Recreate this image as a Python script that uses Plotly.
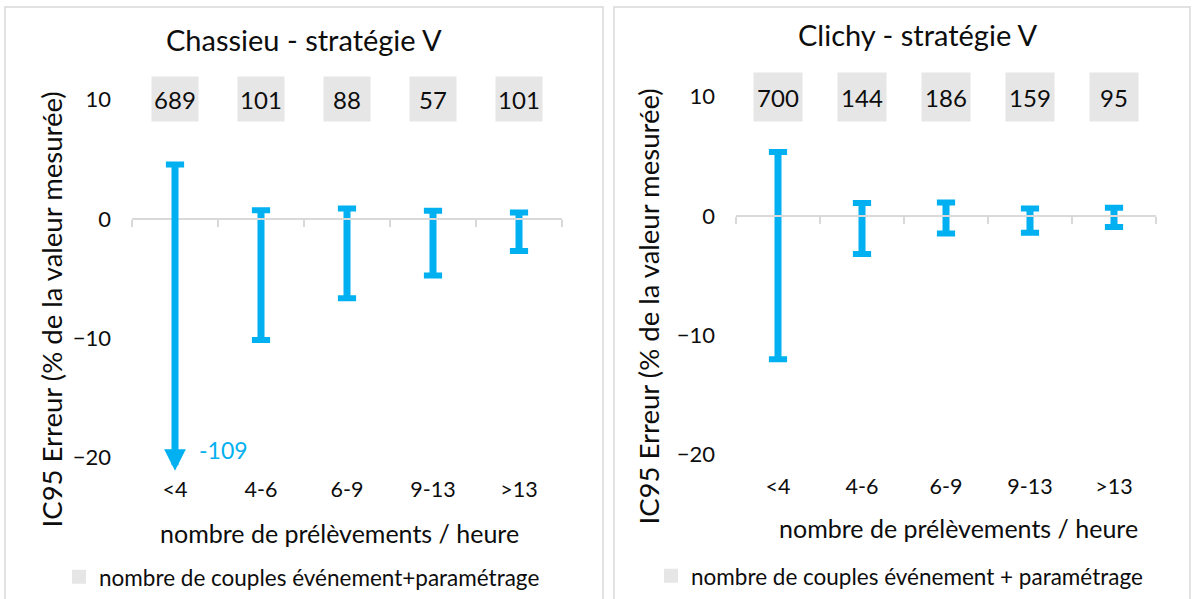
import plotly.graph_objects as go

W, H = 1192, 599

# ---------------- data ----------------
categories = ['<4', '4-6', '6-9', '9-13', '>13']
chassieu_high = [4.55, 0.73, 0.88, 0.69, 0.53]
chassieu_low = [-109, -10.15, -6.64, -4.75, -2.69]
chassieu_counts = [689, 101, 88, 57, 101]
clichy_high = [5.36, 1.08, 1.13, 0.63, 0.68]
clichy_low = [-12.0, -3.2, -1.48, -1.42, -0.93]
clichy_counts = [700, 144, 186, 159, 95]
y_ticks = [-20, -10, 0, 10]
count_row = 10
titles = ['Chassieu - stratégie V', 'Clichy - stratégie V']
x_title = 'nombre de prélèvements / heure'
y_title = 'IC95 Erreur (% de la valeur mesurée)'
legend_names = ['nombre de couples événement+paramétrage',
                'nombre de couples événement + paramétrage']

# ---------------- style ----------------
BLUE = '#00b0f0'
GREY = '#e7e6e6'
AXIS = '#d9d9d9'
TXT = '#0d0d0d'
FONT = 'Lato'
YR = [-21.1, 12]
UNIT = 12.0  # px per unit


def px(x):
    return x / W


def py(y):
    return 1 - y / H


panels = [
    dict(high=chassieu_high, low=chassieu_low, counts=chassieu_counts,
         xpx=(132, 562), zero=220, title=titles[0], title_xy=(304, 40),
         xt_xy=(339, 536), yt_xy=(51, 311), frame=(5, 603), legend_xy=(59, 580),
         legend_name=legend_names[0], box=(44, 42)),
    dict(high=clichy_high, low=clichy_low, counts=clichy_counts,
         xpx=(736, 1156), zero=217, title=titles[1], title_xy=(918, 35),
         xt_xy=(958, 531), yt_xy=(648, 308), frame=(614, 1190), legend_xy=(651, 579),
         legend_name=legend_names[1], box=(46, 46)),
]

fig = go.Figure()
annotations = []
shapes = []
layout = {}

for i, p in enumerate(panels):
    n = i + 1
    xa = 'x' if n == 1 else f'x{n}'
    ya = 'y' if n == 1 else f'y{n}'
    xo = f'x{n + 2}'
    top_px = p['zero'] - YR[1] * UNIT
    bot_px = p['zero'] - YR[0] * UNIT
    ydom = [py(bot_px), py(top_px)]
    zero_pos = ydom[0] + (0 - YR[0]) / (YR[1] - YR[0]) * (ydom[1] - ydom[0])

    # error-bar shafts (in-range ones)
    xs, ys = [], []
    for c, hi, lo in zip(categories, p['high'], p['low']):
        if lo >= YR[0]:
            xs += [c, c, None]
            ys += [hi, lo, None]
    fig.add_trace(go.Scatter(x=xs, y=ys, mode='lines', xaxis=xa, yaxis=ya,
                             line=dict(color=BLUE, width=7), showlegend=False,
                             hoverinfo='skip'))
    # caps
    cx, cy = [], []
    for c, hi, lo in zip(categories, p['high'], p['low']):
        cx.append(c); cy.append(hi)
        if lo >= YR[0]:
            cx.append(c); cy.append(lo)
    fig.add_trace(go.Scatter(x=cx, y=cy, mode='markers', xaxis=xa, yaxis=ya,
                             marker=dict(symbol='line-ew', size=13,
                                         line=dict(color=BLUE, width=6)),
                             showlegend=False, hoverinfo='skip'))
    # off-scale values: arrow down to the axis bottom + value label
    for c, hi, lo in zip(categories, p['high'], p['low']):
        if lo < YR[0]:
            annotations.append(dict(x=c, y=YR[0], xref=xa, yref=ya,
                                    ax=c, ay=hi, axref=xa, ayref=ya, text='',
                                    showarrow=True, arrowhead=2, arrowsize=0.62,
                                    arrowwidth=7, arrowcolor=BLUE))
            annotations.append(dict(x=c, y=YR[0], xref=xa, yref=ya, text=str(lo),
                                    showarrow=False, xshift=48, yshift=21,
                                    xanchor='center', yanchor='middle',
                                    font=dict(family=FONT, size=23, color=BLUE)))
    # legend-only trace for the count boxes
    fig.add_trace(go.Scatter(x=[None], y=[None], mode='markers', xaxis=xa, yaxis=ya,
                             marker=dict(symbol='square', size=14, color=GREY),
                             name=p['legend_name'],
                             legend='legend' if n == 1 else 'legend2'))
    # helper trace for overlay axis
    fig.add_trace(go.Scatter(x=[None], y=[None], xaxis=xo, yaxis=ya, showlegend=False,
                             hoverinfo='skip'))

    # count boxes
    for c, v in zip(categories, p['counts']):
        annotations.append(dict(x=c, y=count_row, xref=xa, yref=ya, text=str(v),
                                showarrow=False, bgcolor=GREY,
                                width=p['box'][0], height=p['box'][1],
                                xanchor='center', yanchor='middle',
                                font=dict(family=FONT, size=24, color=TXT)))

    layout['xaxis' if n == 1 else f'xaxis{n}'] = dict(
        domain=[px(p['xpx'][0]), px(p['xpx'][1])], anchor=ya, type='category',
        categoryarray=categories, range=[-0.5, len(categories) - 0.5],
        showline=False, showgrid=False, zeroline=False, ticks='',
        tickfont=dict(family=FONT, size=21.5, color=TXT), ticklabelstandoff=4)
    layout['yaxis' if n == 1 else f'yaxis{n}'] = dict(
        domain=ydom, anchor=xa, range=YR, tickvals=y_ticks, showgrid=False,
        zeroline=False, showline=False, ticks='',
        tickfont=dict(family=FONT, size=22, color=TXT), ticklabelstandoff=20)
    layout[f'xaxis{n + 2}'] = dict(
        overlaying=xa, anchor='free', position=zero_pos,
        domain=[px(p['xpx'][0]), px(p['xpx'][1])],
        range=[-0.5, len(categories) - 0.5],
        tickvals=[k - 0.5 for k in range(len(categories) + 1)],
        showticklabels=False, ticks='outside', ticklen=7, tickwidth=2, tickcolor=AXIS,
        showline=True, linecolor=AXIS, linewidth=2, showgrid=False, zeroline=False)

    # titles
    annotations.append(dict(x=px(p['title_xy'][0]), y=py(p['title_xy'][1]), xref='paper',
                            yref='paper', text=p['title'], showarrow=False,
                            xanchor='center', yanchor='middle',
                            font=dict(family=FONT, size=29, color=TXT)))
    annotations.append(dict(x=px(p['xt_xy'][0]), y=py(p['xt_xy'][1]), xref='paper',
                            yref='paper', text=x_title, showarrow=False,
                            xanchor='center', yanchor='middle',
                            font=dict(family=FONT, size=25, color=TXT)))
    annotations.append(dict(x=px(p['yt_xy'][0]), y=py(p['yt_xy'][1]), xref='paper',
                            yref='paper', text=y_title, showarrow=False, textangle=-90,
                            xanchor='center', yanchor='middle',
                            font=dict(family=FONT, size=27.5, color=TXT)))
    # panel frame
    shapes.append(dict(type='rect', xref='paper', yref='paper',
                       x0=px(p['frame'][0]), x1=px(p['frame'][1]), y0=py(610), y1=py(7),
                       line=dict(color=AXIS, width=1.5), layer='below'))
    layout['legend' if n == 1 else 'legend2'] = dict(
        x=px(p['legend_xy'][0]), y=py(p['legend_xy'][1]), xanchor='left', yanchor='middle',
        font=dict(family=FONT, size=22.5, color=TXT), bgcolor='rgba(0,0,0,0)',
        borderwidth=0)

fig.update_layout(width=W, height=H, margin=dict(l=0, r=0, t=0, b=0),
                  paper_bgcolor='white', plot_bgcolor='white',
                  annotations=annotations, shapes=shapes, showlegend=True, **layout)

fig.write_html('out.html', config={'displayModeBar': False},
               post_script="document.body.style.margin='0px';")
